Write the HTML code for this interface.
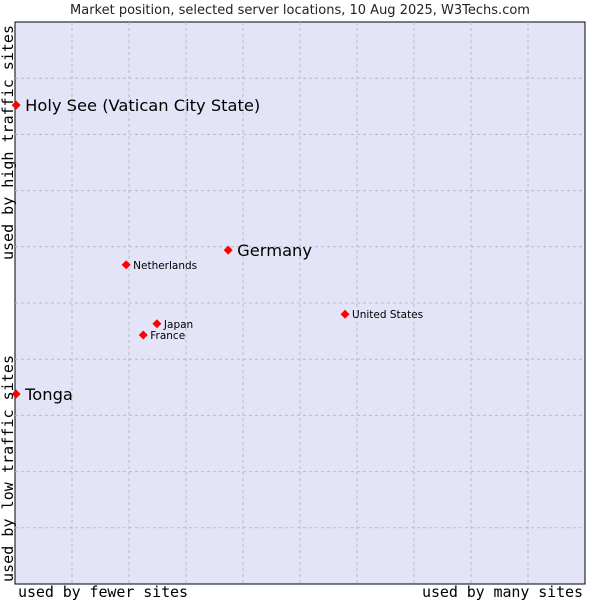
<!DOCTYPE html>
<html><head><meta charset="utf-8"><style>
html,body{margin:0;padding:0;background:#fff;width:600px;height:600px;overflow:hidden}
svg{display:block;font-family:"DejaVu Sans","Liberation Sans",sans-serif}
</style></head><body>
<svg id="chart" width="600" height="600">
<text x="300" y="14" text-anchor="middle" font-size="13" fill="#222">Market position, selected server locations, 10 Aug 2025, W3Techs.com</text>
<rect x="15" y="22" width="570" height="562" fill="#e4e4f8" stroke="#000" stroke-width="1"/>
<g id="grid"></g>
<g id="points"></g>
<text x="18" y="597" font-family="DejaVu Sans Mono,Liberation Mono,monospace" font-size="15" textLength="170">used by fewer sites</text>
<text x="422" y="597" font-family="DejaVu Sans Mono,Liberation Mono,monospace" font-size="15" textLength="161">used by many sites</text>
<text transform="translate(13,260) rotate(-90)" font-family="DejaVu Sans Mono,Liberation Mono,monospace" font-size="15" textLength="235">used by high traffic sites</text>
<text transform="translate(13,582) rotate(-90)" font-family="DejaVu Sans Mono,Liberation Mono,monospace" font-size="15" textLength="227">used by low traffic sites</text>
</svg>
<script>
const names = ["Holy See (Vatican City State)","Germany","Netherlands","United States","Japan","France","Tonga"];
const xVals = [0.2,37.4,19.5,57.9,24.9,22.5,0.2];
const yVals = [85.2,59.4,56.8,48.0,46.3,44.3,33.8];
const big = [true,true,false,false,false,false,true];
const L=15,T=22,W=570,H=562;
const sx=v=>L+v/100*W, sy=v=>T+H-v/100*H;
const NS="http://www.w3.org/2000/svg";
const grid=document.getElementById('grid');
for(let i=1;i<10;i++){
  const x=L+i*W/10, y=T+i*H/10;
  const v=document.createElementNS(NS,'line');
  v.setAttribute('x1',x);v.setAttribute('x2',x);v.setAttribute('y1',T);v.setAttribute('y2',T+H);
  v.setAttribute('stroke','#bbb');v.setAttribute('stroke-dasharray','3,3');
  
  
  grid.appendChild(v);
  const h=document.createElementNS(NS,'line');
  h.setAttribute('y1',y);h.setAttribute('y2',y);h.setAttribute('x1',L);h.setAttribute('x2',L+W);
  h.setAttribute('stroke','#bbb');h.setAttribute('stroke-dasharray','3,3');
  
  
  grid.appendChild(h);
}
const pts=document.getElementById('points');
names.forEach((n,i)=>{
  const x=sx(xVals[i]), y=sy(yVals[i]);
  const d=document.createElementNS(NS,'path');
  d.setAttribute('d',`M${x-4.5},${y}L${x},${y-4.5}L${x+4.5},${y}L${x},${y+4.5}Z`);
  d.setAttribute('fill','#f00');
  
  
  pts.appendChild(d);
  const t=document.createElementNS(NS,'text');
  t.setAttribute('x',x+(big[i]?9:7));
  t.setAttribute('y',y+(big[i]?6:4));
  t.setAttribute('font-size',big[i]?16.3:10.5);
  t.setAttribute('fill','#000');
  t.textContent=n;
  
  
  pts.appendChild(t);
});
</script>
</body></html>
